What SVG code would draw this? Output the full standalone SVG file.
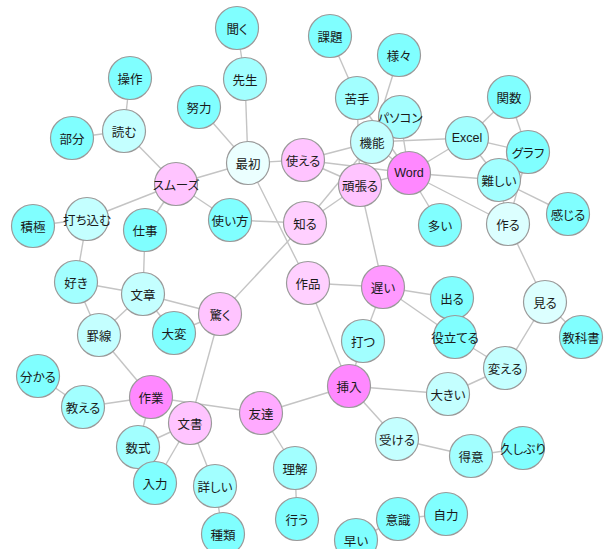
<svg xmlns="http://www.w3.org/2000/svg" width="605" height="549" viewBox="0 0 605 549">
<style>
.e{stroke:#c4c4c4;stroke-width:1.4;fill:none}
circle{stroke:#9a9a9a;stroke-width:1.2}
.c1{fill:#80ffff}.c2{fill:#a2ffff}.c3{fill:#c4ffff}.c4{fill:#dcffff}.c5{fill:#ebffff}
.p1{fill:#ff88ff}.p2{fill:#ff99ff}.p3{fill:#ffaaff}.p4{fill:#ffc4ff}.p5{fill:#ffd0ff}
text{font-family:"Noto Sans CJK JP","Noto Sans",sans-serif;font-size:12.5px;font-feature-settings:"palt";fill:#1a1a1a;text-anchor:middle;dominant-baseline:central}
.lat{font-family:"Liberation Sans","Noto Sans",sans-serif;font-size:12.5px}
</style>
<rect width="605" height="549" fill="#ffffff"/>
<g id="edges">
<line class="e" x1="237" y1="28" x2="245" y2="79"/>
<line class="e" x1="245" y1="79" x2="248" y2="163"/>
<line class="e" x1="199" y1="107" x2="248" y2="163"/>
<line class="e" x1="130" y1="78" x2="124" y2="131"/>
<line class="e" x1="72" y1="138" x2="124" y2="131"/>
<line class="e" x1="124" y1="131" x2="176" y2="184"/>
<line class="e" x1="176" y1="184" x2="248" y2="163"/>
<line class="e" x1="248" y1="163" x2="303" y2="160"/>
<line class="e" x1="248" y1="163" x2="308" y2="283"/>
<line class="e" x1="176" y1="184" x2="87" y2="219"/>
<line class="e" x1="176" y1="184" x2="145" y2="230"/>
<line class="e" x1="176" y1="184" x2="230" y2="220"/>
<line class="e" x1="230" y1="220" x2="305" y2="223"/>
<line class="e" x1="87" y1="219" x2="33" y2="226"/>
<line class="e" x1="87" y1="219" x2="76" y2="282"/>
<line class="e" x1="145" y1="230" x2="143" y2="294"/>
<line class="e" x1="76" y1="282" x2="143" y2="294"/>
<line class="e" x1="76" y1="282" x2="99" y2="335"/>
<line class="e" x1="143" y1="294" x2="99" y2="335"/>
<line class="e" x1="143" y1="294" x2="174" y2="333"/>
<line class="e" x1="143" y1="294" x2="220" y2="314"/>
<line class="e" x1="174" y1="333" x2="220" y2="314"/>
<line class="e" x1="220" y1="314" x2="305" y2="223"/>
<line class="e" x1="220" y1="314" x2="190" y2="423"/>
<line class="e" x1="99" y1="335" x2="151" y2="397"/>
<line class="e" x1="151" y1="397" x2="83" y2="407"/>
<line class="e" x1="83" y1="407" x2="38" y2="376"/>
<line class="e" x1="151" y1="397" x2="261" y2="413"/>
<line class="e" x1="151" y1="397" x2="138" y2="447"/>
<line class="e" x1="190" y1="423" x2="138" y2="447"/>
<line class="e" x1="190" y1="423" x2="155" y2="483"/>
<line class="e" x1="190" y1="423" x2="215" y2="486"/>
<line class="e" x1="215" y1="486" x2="223" y2="534"/>
<line class="e" x1="261" y1="413" x2="349" y2="386"/>
<line class="e" x1="261" y1="413" x2="295" y2="468"/>
<line class="e" x1="295" y1="468" x2="297" y2="519"/>
<line class="e" x1="349" y1="386" x2="308" y2="283"/>
<line class="e" x1="349" y1="386" x2="363" y2="341"/>
<line class="e" x1="349" y1="386" x2="448" y2="394"/>
<line class="e" x1="349" y1="386" x2="397" y2="439"/>
<line class="e" x1="397" y1="439" x2="471" y2="456"/>
<line class="e" x1="471" y1="456" x2="523" y2="448"/>
<line class="e" x1="448" y1="394" x2="505" y2="368"/>
<line class="e" x1="505" y1="368" x2="545" y2="302"/>
<line class="e" x1="505" y1="368" x2="455" y2="337"/>
<line class="e" x1="545" y1="302" x2="508" y2="224"/>
<line class="e" x1="545" y1="302" x2="581" y2="337"/>
<line class="e" x1="508" y1="224" x2="499" y2="180"/>
<line class="e" x1="508" y1="224" x2="409" y2="173"/>
<line class="e" x1="508" y1="224" x2="528" y2="152"/>
<line class="e" x1="499" y1="180" x2="568" y2="214"/>
<line class="e" x1="499" y1="180" x2="467" y2="138"/>
<line class="e" x1="499" y1="180" x2="409" y2="173"/>
<line class="e" x1="467" y1="138" x2="509" y2="97"/>
<line class="e" x1="467" y1="138" x2="528" y2="152"/>
<line class="e" x1="509" y1="97" x2="528" y2="152"/>
<line class="e" x1="467" y1="138" x2="409" y2="173"/>
<line class="e" x1="467" y1="138" x2="372" y2="142"/>
<line class="e" x1="409" y1="173" x2="440" y2="225"/>
<line class="e" x1="409" y1="173" x2="372" y2="142"/>
<line class="e" x1="409" y1="173" x2="400" y2="117"/>
<line class="e" x1="409" y1="173" x2="360" y2="185"/>
<line class="e" x1="409" y1="173" x2="303" y2="160"/>
<line class="e" x1="303" y1="160" x2="372" y2="142"/>
<line class="e" x1="303" y1="160" x2="360" y2="185"/>
<line class="e" x1="357" y1="98" x2="360" y2="185"/>
<line class="e" x1="357" y1="98" x2="409" y2="173"/>
<line class="e" x1="357" y1="98" x2="330" y2="36"/>
<line class="e" x1="399" y1="55" x2="372" y2="142"/>
<line class="e" x1="372" y1="142" x2="360" y2="185"/>
<line class="e" x1="305" y1="223" x2="360" y2="185"/>
<line class="e" x1="305" y1="223" x2="372" y2="142"/>
<line class="e" x1="360" y1="185" x2="383" y2="287"/>
<line class="e" x1="383" y1="287" x2="308" y2="283"/>
<line class="e" x1="383" y1="287" x2="452" y2="298"/>
<line class="e" x1="383" y1="287" x2="363" y2="341"/>
<line class="e" x1="383" y1="287" x2="455" y2="337"/>
<line class="e" x1="398" y1="519" x2="446" y2="514"/>
<line class="e" x1="398" y1="519" x2="356" y2="540"/>
</g>
<g id="n-kiku"><circle class="c1" cx="237" cy="28" r="21.5"/><text x="237" y="28">聞く</text></g>
<g id="n-sensei"><circle class="c2" cx="245" cy="79" r="21.5"/><text x="245" y="79">先生</text></g>
<g id="n-sousa"><circle class="c1" cx="130" cy="78" r="21.5"/><text x="130" y="78">操作</text></g>
<g id="n-doryoku"><circle class="c1" cx="199" cy="107" r="21.5"/><text x="199" y="107">努力</text></g>
<g id="n-yomu"><circle class="c3" cx="124" cy="131" r="21.5"/><text x="124" y="131">読む</text></g>
<g id="n-bubun"><circle class="c1" cx="72" cy="138" r="21.5"/><text x="72" y="138">部分</text></g>
<g id="n-saisho"><circle class="c5" cx="248" cy="163" r="21.5"/><text x="248" y="163">最初</text></g>
<g id="n-tsukaeru"><circle class="p4" cx="303" cy="160" r="21.5"/><text x="303" y="160">使える</text></g>
<g id="n-kadai"><circle class="c1" cx="330" cy="36" r="21.5"/><text x="330" y="36">課題</text></g>
<g id="n-samazama"><circle class="c1" cx="399" cy="55" r="21.5"/><text x="399" y="55">様々</text></g>
<g id="n-nigate"><circle class="c2" cx="357" cy="98" r="21.5"/><text x="357" y="98">苦手</text></g>
<g id="n-pasokon"><circle class="c2" cx="400" cy="117" r="21.5"/><text x="400" y="117">パソコン</text></g>
<g id="n-kinou"><circle class="c3" cx="372" cy="142" r="21.5"/><text x="372" y="142">機能</text></g>
<g id="n-excel"><circle class="c2" cx="467" cy="138" r="21.5"/><text class="lat" x="467" y="138">Excel</text></g>
<g id="n-kansuu"><circle class="c1" cx="509" cy="97" r="21.5"/><text x="509" y="97">関数</text></g>
<g id="n-gurafu"><circle class="c1" cx="528" cy="152" r="21.5"/><text x="528" y="152">グラフ</text></g>
<g id="n-ganbaru"><circle class="p4" cx="360" cy="185" r="21.5"/><text x="360" y="185">頑張る</text></g>
<g id="n-word"><circle class="p1" cx="409" cy="173" r="21.5"/><text class="lat" x="409" y="173">Word</text></g>
<g id="n-muzukashii"><circle class="c2" cx="499" cy="180" r="21.5"/><text x="499" y="180">難しい</text></g>
<g id="n-kanjiru"><circle class="c1" cx="568" cy="214" r="21.5"/><text x="568" y="214">感じる</text></g>
<g id="n-tsukuru"><circle class="c4" cx="508" cy="224" r="21.5"/><text x="508" y="224">作る</text></g>
<g id="n-ooi"><circle class="c1" cx="440" cy="225" r="21.5"/><text x="440" y="225">多い</text></g>
<g id="n-shiru"><circle class="p5" cx="305" cy="223" r="21.5"/><text x="305" y="223">知る</text></g>
<g id="n-tsukaikata"><circle class="c1" cx="230" cy="220" r="21.5"/><text x="230" y="220">使い方</text></g>
<g id="n-sumuzu"><circle class="p4" cx="176" cy="184" r="21.5"/><text x="176" y="184">スムーズ</text></g>
<g id="n-uchikomu"><circle class="c3" cx="87" cy="219" r="21.5"/><text x="87" y="219">打ち込む</text></g>
<g id="n-sekkyoku"><circle class="c1" cx="33" cy="226" r="21.5"/><text x="33" y="226">積極</text></g>
<g id="n-shigoto"><circle class="c1" cx="145" cy="230" r="21.5"/><text x="145" y="230">仕事</text></g>
<g id="n-suki"><circle class="c2" cx="76" cy="282" r="21.5"/><text x="76" y="282">好き</text></g>
<g id="n-bunshou"><circle class="c3" cx="143" cy="294" r="21.5"/><text x="143" y="294">文章</text></g>
<g id="n-keisen"><circle class="c3" cx="99" cy="335" r="21.5"/><text x="99" y="335">罫線</text></g>
<g id="n-taihen"><circle class="c1" cx="174" cy="333" r="21.5"/><text x="174" y="333">大変</text></g>
<g id="n-odoroku"><circle class="p4" cx="220" cy="314" r="21.5"/><text x="220" y="314">驚く</text></g>
<g id="n-sakuhin"><circle class="p5" cx="308" cy="283" r="21.5"/><text x="308" y="283">作品</text></g>
<g id="n-osoi"><circle class="p2" cx="383" cy="287" r="21.5"/><text x="383" y="287">遅い</text></g>
<g id="n-deru"><circle class="c1" cx="452" cy="298" r="21.5"/><text x="452" y="298">出る</text></g>
<g id="n-utsu"><circle class="c2" cx="363" cy="341" r="21.5"/><text x="363" y="341">打つ</text></g>
<g id="n-yakudateru"><circle class="c1" cx="455" cy="337" r="21.5"/><text x="455" y="337">役立てる</text></g>
<g id="n-miru"><circle class="c4" cx="545" cy="302" r="21.5"/><text x="545" y="302">見る</text></g>
<g id="n-kyoukasho"><circle class="c1" cx="581" cy="337" r="21.5"/><text x="581" y="337">教科書</text></g>
<g id="n-sounyuu"><circle class="p1" cx="349" cy="386" r="21.5"/><text x="349" y="386">挿入</text></g>
<g id="n-ookii"><circle class="c3" cx="448" cy="394" r="21.5"/><text x="448" y="394">大きい</text></g>
<g id="n-kaeru"><circle class="c3" cx="505" cy="368" r="21.5"/><text x="505" y="368">変える</text></g>
<g id="n-tomodachi"><circle class="p3" cx="261" cy="413" r="21.5"/><text x="261" y="413">友達</text></g>
<g id="n-sagyou"><circle class="p1" cx="151" cy="397" r="21.5"/><text x="151" y="397">作業</text></g>
<g id="n-bunsho"><circle class="p4" cx="190" cy="423" r="21.5"/><text x="190" y="423">文書</text></g>
<g id="n-wakaru"><circle class="c1" cx="38" cy="376" r="21.5"/><text x="38" y="376">分かる</text></g>
<g id="n-oshieru"><circle class="c2" cx="83" cy="407" r="21.5"/><text x="83" y="407">教える</text></g>
<g id="n-suushiki"><circle class="c2" cx="138" cy="447" r="21.5"/><text x="138" y="447">数式</text></g>
<g id="n-nyuuryoku"><circle class="c1" cx="155" cy="483" r="21.5"/><text x="155" y="483">入力</text></g>
<g id="n-kuwashii"><circle class="c2" cx="215" cy="486" r="21.5"/><text x="215" y="486">詳しい</text></g>
<g id="n-shurui"><circle class="c1" cx="223" cy="534" r="21.5"/><text x="223" y="534">種類</text></g>
<g id="n-rikai"><circle class="c2" cx="295" cy="468" r="21.5"/><text x="295" y="468">理解</text></g>
<g id="n-okonau"><circle class="c1" cx="297" cy="519" r="21.5"/><text x="297" y="519">行う</text></g>
<g id="n-ukeru"><circle class="c3" cx="397" cy="439" r="21.5"/><text x="397" y="439">受ける</text></g>
<g id="n-tokui"><circle class="c2" cx="471" cy="456" r="21.5"/><text x="471" y="456">得意</text></g>
<g id="n-hisashiburi"><circle class="c1" cx="523" cy="448" r="21.5"/><text x="523" y="448">久しぶり</text></g>
<g id="n-ishiki"><circle class="c1" cx="398" cy="519" r="21.5"/><text x="398" y="519">意識</text></g>
<g id="n-jiriki"><circle class="c1" cx="446" cy="514" r="21.5"/><text x="446" y="514">自力</text></g>
<g id="n-hayai"><circle class="c1" cx="356" cy="540" r="21.5"/><text x="356" y="540">早い</text></g>
</svg>
